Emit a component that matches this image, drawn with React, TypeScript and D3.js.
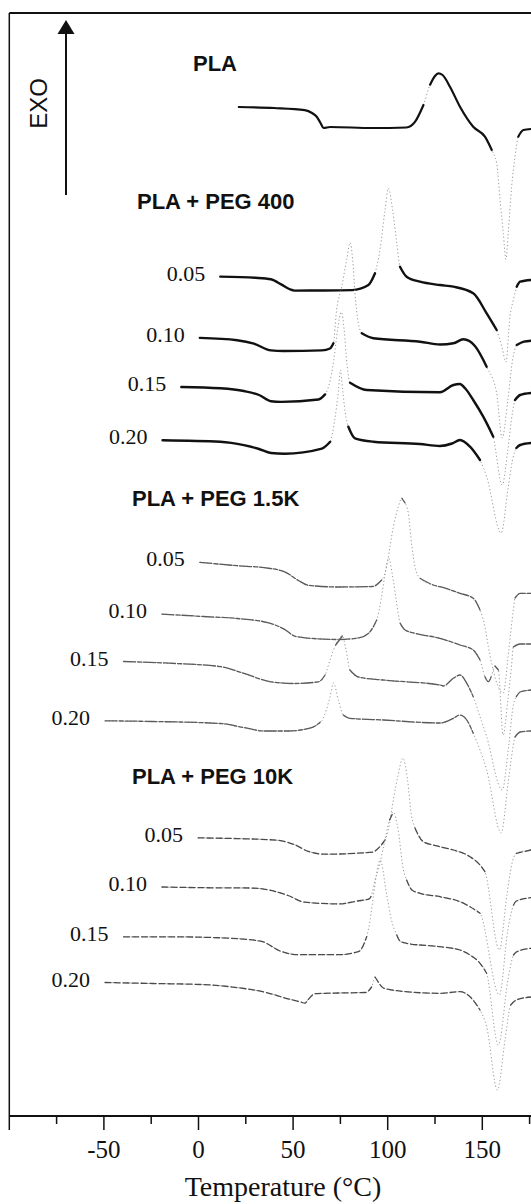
import React from 'react';
import * as d3 from 'd3';

type Pt = [number, number]; // [temperature °C, relative heat flow (a.u., exo up)]

const W = 531;
const H = 1204;

// ---- axis ----
const xTicks = [-100, -75, -50, -25, 0, 25, 50, 75, 100, 125, 150, 175];
const xMajor = [-100, -50, 0, 50, 100, 150];
const xTickLabels = [-50, 0, 50, 100, 150];

// ---- group titles ----
const groupTitles = ['PLA', 'PLA + PEG 400', 'PLA + PEG 1.5K', 'PLA + PEG 10K'];

// ---- curves ----
const PLA: Pt[] = [[21.3,0],[40,-0.1],[56.2,-0.31],[60,-0.6],[62.5,-0.98],[64.5,-1.6],[66.1,-2.1],[69.6,-2.0],[92,-2.1],[109.9,-2.05],[114.4,-1.49],[118.9,0.2],[122.4,2.23],[125,3.1],[126.7,3.37],[129,3.2],[132.9,2.03],[138.2,0.03],[145.2,-1.97],[151.4,-2.97],[155,-4.3],[157.6,-5.63],[159.4,-9.3],[161.1,-12.63],[162.5,-15.23],[163.7,-12.63],[165.5,-7.97],[167.3,-4.97],[169,-2.97],[171.7,-2.3],[175.7,-2.2]];

const PEG400_005: Pt[] = [[11.5,0],[30,-0.12],[38.3,-0.27],[43.7,-0.78],[48,-1.24],[50.8,-1.4],[65,-1.39],[81.2,-1.35],[89.8,-0.84],[93.3,0.33],[95.9,2.66],[98.6,6.66],[100.3,8.83],[102.6,6.66],[104.8,3.33],[106.5,0.99],[110,-0.01],[117.1,-0.51],[127.7,-0.84],[134.7,-1.01],[145.2,-1.67],[152.3,-3.67],[157.6,-5.34],[160.5,-7.14],[162.5,-8.54],[164.6,-4.01],[166.4,-2.34],[168.2,-1.01],[170,-0.51],[175.7,-0.34]];
const PEG400_010: Pt[] = [[0.7,0],[20.4,-0.23],[29.3,-0.57],[38.3,-1.25],[45,-1.31],[65.2,-1.25],[69.5,-1.06],[71.3,-0.54],[73,2.79],[75.7,5.12],[78.3,7.79],[80.1,9.52],[81.5,7.79],[82.7,4.46],[84.5,1.46],[86.3,0.46],[92.4,-0.04],[117.1,-0.38],[127.8,-0.66],[134.7,-0.54],[140,-0.14],[146.1,-0.81],[152.3,-2.88],[157.6,-5.54],[160.5,-10.01],[163.5,-6.21],[166,-2.21],[168.2,-0.71],[172,-0.38],[175.7,-0.28]];
const PEG400_015: Pt[] = [[-9.1,0],[11.5,-0.13],[24,-0.4],[32,-0.8],[38.3,-1.42],[43.7,-1.49],[63.4,-1.25],[66.9,-0.74],[69,0.2],[71.5,2.7],[73.5,5.7],[75.5,7.5],[77,5.7],[78.5,2.2],[80.1,0.43],[88.9,-0.3],[127.6,-0.53],[134.7,0.2],[138.2,0.3],[140.9,-0.13],[145.2,-1.3],[150.5,-2.97],[155.8,-4.97],[160.5,-9.8],[163.5,-6.3],[166,-2.5],[167.3,-1.3],[170,-0.8],[175.7,-0.6]];
const PEG400_020: Pt[] = [[-19,0],[11.5,-0.16],[24,-0.5],[32,-0.88],[38.3,-1.28],[45.5,-1.35],[65.2,-0.84],[69.6,-0.16],[72,2.02],[74,5.02],[75,7.02],[76.2,5.02],[77.5,2.82],[79.2,1.35],[82.7,0.19],[92.4,-0.15],[117,-0.38],[127.6,-0.58],[134,-0.33],[138.2,0.02],[143.5,-0.65],[148.8,-1.98],[152.3,-3.65],[160,-9.28],[163.5,-4.98],[166,-1.98],[168,-0.78],[170,-0.48],[175.7,-0.28]];

const PEG1K5_005: Pt[] = [[0.7,0],[20.4,-0.34],[34.7,-0.54],[45.5,-0.95],[52.6,-1.79],[58,-2.3],[74.1,-2.47],[92,-2.42],[96.8,-1.77],[99.5,-0.44],[101.2,1.56],[103,3.56],[105.6,5.56],[107.5,6.4],[109.2,5.93],[110.9,4.9],[112.8,1.56],[114.4,-0.44],[117.1,-1.6],[124.1,-2.27],[127.6,-2.44],[138.2,-3.1],[145.2,-3.6],[148.8,-4.77],[151.4,-6.44],[153.2,-8.44],[161,-13.07],[164,-8.77],[166.4,-4.77],[167.3,-3.57],[170,-3.1],[175.7,-3.1]];
const PEG1K5_010: Pt[] = [[-19.3,0],[2.5,-0.24],[20.4,-0.44],[36.5,-0.85],[45.5,-1.53],[50.8,-2.2],[56.2,-2.37],[74.1,-2.54],[84.8,-2.37],[90.2,-1.86],[94.2,-0.59],[96.5,1.41],[98.5,3.91],[100.5,5.61],[102.5,3.91],[104.5,1.41],[106.6,-0.92],[109.2,-1.59],[114.4,-1.92],[127.6,-2.42],[138.2,-3.09],[145.2,-3.59],[148.8,-4.59],[151.4,-6.26],[153.2,-6.76],[155,-6.09],[156.7,-5.19],[158.5,-5.59],[161,-12.09],[163.5,-8.59],[165.5,-5.09],[166.4,-3.29],[170,-2.99],[175.7,-2.99]];
const PEG1K5_015: Pt[] = [[-39.6,0],[-15.4,-0.17],[11.5,-0.51],[24,-1.19],[38.3,-2.03],[50.8,-2.2],[63.4,-2.03],[66.9,-1.35],[69.5,0.15],[72.5,1.65],[76,2.55],[78,1.15],[80,-0.85],[84.5,-1.55],[97.5,-1.85],[127.6,-2.35],[129.4,-2.45],[134.7,-1.68],[138.2,-1.35],[141.8,-2.18],[145.2,-3.52],[148.8,-5.52],[152.3,-7.52],[160.5,-12.85],[164,-8.35],[166.4,-4.35],[168,-3.52],[170,-3.05],[175.7,-2.85]];
const PEG1K5_020: Pt[] = [[-49.4,0],[-24.4,-0.07],[11.5,-0.27],[24,-0.68],[34.7,-1.02],[47.3,-1.02],[59.8,-0.68],[65.2,0],[67.5,1.08],[69.5,2.38],[71.4,3.78],[73.9,2.08],[76.5,0.58],[80,0.25],[97.7,0.08],[127.6,-0.22],[134.7,0.25],[138.2,0.58],[141.8,0.08],[145.2,-1.25],[148.8,-2.92],[152.3,-4.92],[160,-11.22],[163.5,-6.42],[166,-2.92],[167.3,-1.62],[170,-1.12],[175.7,-1.02]];

const PEG10K_005: Pt[] = [[-0.2,0],[20.4,-0.07],[41.9,-0.24],[50.8,-0.68],[58,-1.35],[66.9,-1.63],[92,-1.42],[95,-1.04],[98.6,-0.21],[100.3,0.79],[103,3.79],[105.5,6.29],[108,7.99],[110.5,5.79],[112.5,2.29],[114.4,0.99],[118.8,-0.38],[124.1,-0.71],[127.6,-0.88],[134.7,-1.21],[143.5,-1.88],[148.8,-2.71],[151.4,-3.38],[159,-11.21],[163,-5.71],[165.5,-2.71],[168,-1.54],[175.7,-1.21]];
const PEG10K_010: Pt[] = [[-19.3,0],[2.5,-0.07],[27.5,-0.1],[38.3,-0.34],[47.3,-0.85],[56.2,-1.52],[74.1,-1.69],[84,-1.4],[90.2,-1.19],[91.5,-0.8],[93.3,0.7],[95,1.7],[98,4.2],[101,6.7],[103,7.5],[105.5,5.7],[108.3,1.7],[110,0.7],[112.8,-0.3],[117.1,-0.63],[127.6,-0.97],[138.2,-1.47],[143.5,-1.97],[148.8,-2.63],[159,-10.8],[163.5,-4.3],[166.5,-1.8],[168,-1.4],[175.7,-1.07]];
const PEG10K_015: Pt[] = [[-39.6,0],[-15.4,0],[11.5,-0.1],[32.9,-0.44],[43.7,-1.46],[52.6,-1.79],[74.1,-1.79],[84.8,-1.46],[88.9,0.01],[90.7,1.68],[92.5,4.18],[96,7.68],[99.5,4.18],[102,1.68],[104.8,0.18],[106.5,-0.42],[110,-0.65],[127.6,-0.99],[138.2,-1.32],[143.5,-1.82],[148.8,-2.65],[152.3,-3.65],[158.5,-10.82],[163.5,-4.32],[166.5,-1.82],[168,-1.52],[175.7,-1.15]];
const PEG10K_020: Pt[] = [[-49.4,0],[-24.4,-0.1],[2.5,-0.21],[20.4,-0.51],[34.7,-0.95],[47.3,-1.63],[54,-1.95],[56.2,-2.07],[58,-1.7],[61.6,-1.12],[74.1,-1.05],[88.4,-1.0],[91.5,-0.45],[93.3,0.55],[95,0.05],[97.7,-0.55],[105,-0.82],[127.6,-1.08],[138.2,-0.92],[143.5,-1.42],[148.8,-2.75],[152.3,-4.42],[158,-10.75],[162,-5.75],[165,-2.25],[168,-1.75],[175.7,-1.45]];

// vertical offsets of each trace (a.u.)
const curveData = [PLA, PEG400_005, PEG400_010, PEG400_015, PEG400_020, PEG1K5_005, PEG1K5_010, PEG1K5_015, PEG1K5_020, PEG10K_005, PEG10K_010, PEG10K_015, PEG10K_020];
const curveOffsets = [100.9, 83.94, 77.81, 72.9, 67.58, 55.37, 50.19, 45.45, 39.52, 27.81, 22.9, 17.92, 13.35];
const curveLabels = ['', '0.05', '0.10', '0.15', '0.20', '0.05', '0.10', '0.15', '0.20', '0.05', '0.10', '0.15', '0.20'];
const curveGroup = [0, 1, 1, 1, 1, 2, 2, 2, 2, 3, 3, 3, 3];

const groupStyles = [
  { stroke: '#111', width: 2.2, dash: undefined as string | undefined },
  { stroke: '#111', width: 2.4, dash: undefined as string | undefined },
  { stroke: '#5a5a5a', width: 1.3, dash: '12 2 4 2' },
  { stroke: '#4a4a4a', width: 1.3, dash: '6 3' },
];

const SERIF = '"Liberation Serif", "Times New Roman", Times, serif';
const SANS = '"Liberation Sans", Arial, Helvetica, sans-serif';

export default function App() {
  const x = d3.scaleLinear().domain([-100, 175]).range([9.3, 529.6]);
  const y = d3.scaleLinear().domain([0, 110]).range([1116, 16]);
  const line = d3.line<[number, number]>().x(d => d[0]).y(d => d[1]).curve(d3.curveMonotoneX);

  const axisY = y(0);
  const frameTop = 13;
  const left = x(-100);

  const traces = curveData.map((data, i) => {
    const pts: [number, number][] = data.map(([t, v]) => [x(t), y(curveOffsets[i] + v)]);
    // split into shallow runs (drawn solid) — steep parts remain faint like the scan
    const runs: [number, number][][] = [];
    let cur: [number, number][] = [];
    for (let k = 0; k < pts.length - 1; k++) {
      const a = pts[k], b = pts[k + 1];
      const slope = Math.abs((b[1] - a[1]) / Math.max(0.001, b[0] - a[0]));
      if (slope <= 2.2) {
        if (cur.length === 0) cur.push(a);
        cur.push(b);
      } else if (cur.length) {
        runs.push(cur);
        cur = [];
      }
    }
    if (cur.length) runs.push(cur);
    return { pts, runs, i };
  });

  return (
    <svg width={W} height={H} style={{ position: 'absolute', left: 0, top: 0, display: 'block', background: '#fff' }}>
      <rect x={0} y={0} width={W} height={H} fill="#fff" />
      {/* frame */}
      <line x1={left} x2={W} y1={frameTop} y2={frameTop} stroke="#111" strokeWidth={2} />
      <line x1={left} x2={left} y1={frameTop} y2={axisY} stroke="#111" strokeWidth={1.5} />
      <line x1={left} x2={W} y1={axisY} y2={axisY} stroke="#111" strokeWidth={1.8} />
      {xTicks.map(t => (
        <line key={'t' + t} x1={x(t)} x2={x(t)} y1={axisY} y2={axisY + (xMajor.includes(t) ? 14 : 8)} stroke="#111" strokeWidth={1.5} />
      ))}
      {xTickLabels.map(t => (
        <text key={'l' + t} x={x(t)} y={1158} textAnchor="middle" fontFamily={SERIF} fontSize={25} fill="#111">{t}</text>
      ))}
      <text x={283} y={1196} textAnchor="middle" fontFamily={SERIF} fontSize={28} fill="#111">Temperature (°C)</text>

      {/* EXO arrow */}
      <line x1={66} x2={66} y1={195} y2={32} stroke="#111" strokeWidth={2} />
      <polygon points="66,20 57.5,34 74.5,34" fill="#111" />
      <text transform="translate(47,103.5) rotate(-90)" textAnchor="middle" fontFamily={SANS} fontSize={24} fill="#111">EXO</text>

      {/* group titles */}
      <text x={193} y={71} fontFamily={SANS} fontWeight="bold" fontSize={22} fill="#111">{groupTitles[0]}</text>
      <text x={137} y={209} fontFamily={SANS} fontWeight="bold" fontSize={22} fill="#111">{groupTitles[1]}</text>
      <text x={132} y={506} fontFamily={SANS} fontWeight="bold" fontSize={22} fill="#111">{groupTitles[2]}</text>
      <text x={132} y={784} fontFamily={SANS} fontWeight="bold" fontSize={22} fill="#111">{groupTitles[3]}</text>

      {/* traces */}
      {traces.map(({ pts, runs, i }) => {
        const st = groupStyles[curveGroup[i]];
        return (
          <g key={'c' + i}>
            <path d={line(pts) || ''} fill="none" stroke="#9a9a9a" strokeWidth={1} strokeDasharray="1.2 2.4" />
            {runs.map((r, j) => (
              <path key={j} d={line(r) || ''} fill="none" stroke={st.stroke} strokeWidth={st.width} strokeDasharray={st.dash} strokeLinecap="round" strokeLinejoin="round" />
            ))}
            {curveLabels[i] && (
              <text x={x(curveData[i][0][0]) - 15} y={y(curveOffsets[i]) + 4} textAnchor="end" fontFamily={SERIF} fontSize={22} fill="#111">{curveLabels[i]}</text>
            )}
          </g>
        );
      })}
    </svg>
  );
}
